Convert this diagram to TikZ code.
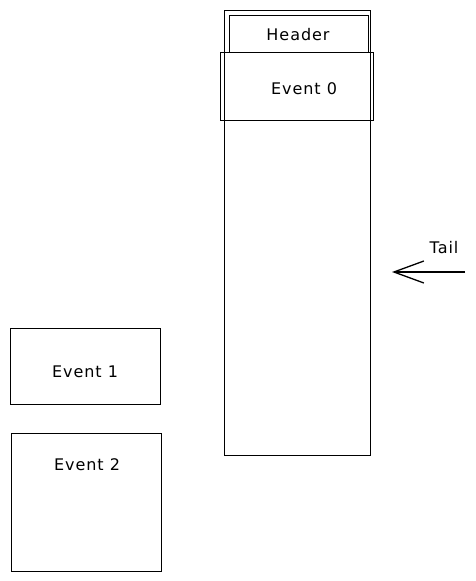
\documentclass[tikz,border=0pt]{standalone}
\usepackage{fontspec}
\newfontfamily\sketchfont[LetterSpace=6]{DejaVu Sans}
\usetikzlibrary{arrows.meta}
\begin{document}
\begin{tikzpicture}[x=1pt,y=-1pt,
  box/.style={draw=black,line width=1.3pt,inner sep=0pt,anchor=north west},
  lbl/.style={font=\sketchfont\fontsize{16}{18}\selectfont,text=black}]
\useasboundingbox (0,0) rectangle (476,581);
% column
\node[box,minimum width=146pt,minimum height=445pt] (col) at (224,10) {};
\node[box,minimum width=139pt,minimum height=37pt] (hdr) at (229,15) {};
\node[box,minimum width=153pt,minimum height=68pt] (ev0) at (220,52) {};
\node[lbl] (hdrt) at (298,35) {Header};
\node[lbl] (ev0t) at (304,89) {Event 0};
% tail arrow
\coordinate (tstart) at (465,272);
\coordinate (tend) at (392,272);
\draw[line width=1.3pt,black,-{Straight Barb[length=30pt,width=22pt,line width=1.3pt]}] (tstart) -- (tend);
\node[lbl] (tail) at (444,248) {Tail};
% events
\node[box,minimum width=150pt,minimum height=76pt] (ev1) at (10,328) {};
\node[lbl] (ev1t) at (85,372) {Event 1};
\node[box,minimum width=150pt,minimum height=138pt] (ev2) at (11,433) {};
\node[lbl] (ev2t) at (87,465) {Event 2};
\end{tikzpicture}
\end{document}
